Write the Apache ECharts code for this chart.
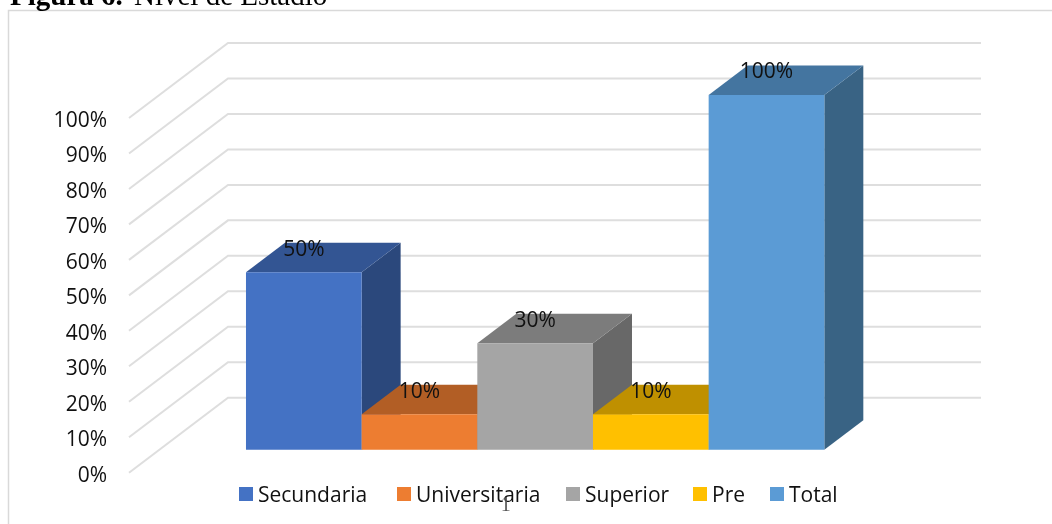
<!DOCTYPE html>
<html>
<head>
<meta charset="utf-8">
<style>html,body{margin:0;padding:0;background:#fff}#c{width:1052px;height:524px}</style>
<script src="https://cdn.jsdelivr.net/npm/echarts@6/dist/echarts.min.js"></script>
</head>
<body>
<div id="c"></div>
<script>
const categories = ['Secundaria', 'Universitaria', 'Superior', 'Pre', 'Total'];
const values = [50, 10, 30, 10, 100];
const gridTicks = [0, 10, 20, 30, 40, 50, 60, 70, 80, 90, 100];
const colors = ['#4472C4', '#ED7D31', '#A5A5A5', '#FFC000', '#5B9BD5'];
const topColors = ['#335593', '#B25E25', '#7C7C7C', '#BF9000', '#4475A0'];
const sideColors = ['#2B487C', '#95501F', '#686868', '#A17A00', '#396384'];
const legendLefts = [239, 397, 566, 693, 770];

const X_MIN = -0.752, X_MAX = 5.758;
const WALL = [99, -75];
const INSET = [30, -23];
const DEPTH = [39, -29.5];
const FONT = '"Open Sans", "Noto Sans", sans-serif';

function wallItem(params, api) {
  const v = api.value(1);
  const a = api.coord([X_MIN, v]);
  const b = api.coord([X_MAX, v]);
  return {
    type: 'polyline',
    shape: { points: [a, [a[0] + WALL[0], a[1] + WALL[1]], [b[0] + WALL[0], b[1] + WALL[1]]] },
    style: { stroke: '#dedede', lineWidth: 2, fill: null }
  };
}

function barItem(i) {
  return function (params, api) {
    const x = api.value(0), v = api.value(1);
    const off = (p) => [p[0] + INSET[0], p[1] + INSET[1]];
    const bl = off(api.coord([x, 0])), br = off(api.coord([x + 1, 0]));
    const tl = off(api.coord([x, v])), tr = off(api.coord([x + 1, v]));
    const back = (p) => [p[0] + DEPTH[0], p[1] + DEPTH[1]];
    return {
      type: 'group',
      children: [
        { type: 'polygon', shape: { points: [br, back(br), back(tr), tr] }, style: { fill: sideColors[i] } },
        { type: 'polygon', shape: { points: [tl, tr, back(tr), back(tl)] }, style: { fill: topColors[i] } },
        { type: 'polygon', shape: { points: [bl, br, tr, tl] }, style: { fill: colors[i] } },
        {
          type: 'text', z2: 10,
          style: {
            text: v + '%', x: (tl[0] + tr[0]) / 2, y: tl[1] - 22.5,
            align: 'center', verticalAlign: 'middle',
            font: '21px ' + FONT, fill: '#111'
          }
        }
      ]
    };
  };
}

const chart = echarts.init(document.getElementById('c'), null, { renderer: 'canvas' });
chart.setOption({
  animation: false,
  backgroundColor: '#fff',
  grid: { left: 129, top: 118, width: 753, height: 354.7, containLabel: false },
  xAxis: { type: 'value', min: X_MIN, max: X_MAX, show: false },
  yAxis: {
    type: 'value', min: 0, max: 100, interval: 10,
    axisLine: { show: false }, axisTick: { show: false }, splitLine: { show: false },
    axisLabel: {
      formatter: '{t|{value}%}', margin: 22,
      rich: { t: { fontSize: 21, fontFamily: FONT, color: '#111', padding: [6, 0, 0, 0] } }
    }
  },
  legend: categories.map((name, i) => ({
    left: legendLefts[i], top: 485.5, padding: 0,
    data: [name], icon: 'rect', itemWidth: 14, itemHeight: 14,
    selectedMode: false,
    formatter: '{t|{name}}',
    textStyle: { rich: { t: { fontSize: 21, fontFamily: FONT, color: '#111', padding: [4, 0, 0, 0] } } }
  })),
  series: [
    {
      type: 'custom', coordinateSystem: 'cartesian2d', silent: true, clip: false, z: 1,
      renderItem: wallItem, encode: { x: 0, y: 1 },
      data: gridTicks.map((t) => [0, t])
    }
  ].concat(categories.map((name, i) => ({
    type: 'custom', name, coordinateSystem: 'cartesian2d', silent: true, clip: false, z: 2 + i,
    itemStyle: { color: colors[i] },
    renderItem: barItem(i), encode: { x: 0, y: 1 },
    data: [[i, values[i]]]
  }))),
  graphic: [
    { type: 'polyline', z: 20, shape: { points: [[8.5, 524], [8.5, 10.5], [1052, 10.5]] }, style: { stroke: '#d9d9d9', lineWidth: 1.5, fill: null } },
    { type: 'text', z: 20, x: 10, y: 12, style: { text: 'Figura 6.', font: 'bold 29px "Liberation Serif"', fill: '#000', verticalAlign: 'bottom' } },
    { type: 'text', z: 20, x: 134, y: 12, style: { text: 'Nivel de Estadio', font: '29px "Liberation Serif"', fill: '#000', verticalAlign: 'bottom' } },
    { type: 'text', z: 30, x: 505.7, y: 515.5, style: { text: '1', font: '20px "Liberation Serif"', fill: '#555', align: 'center', verticalAlign: 'bottom' } }
  ]
});
</script>
</body>
</html>
